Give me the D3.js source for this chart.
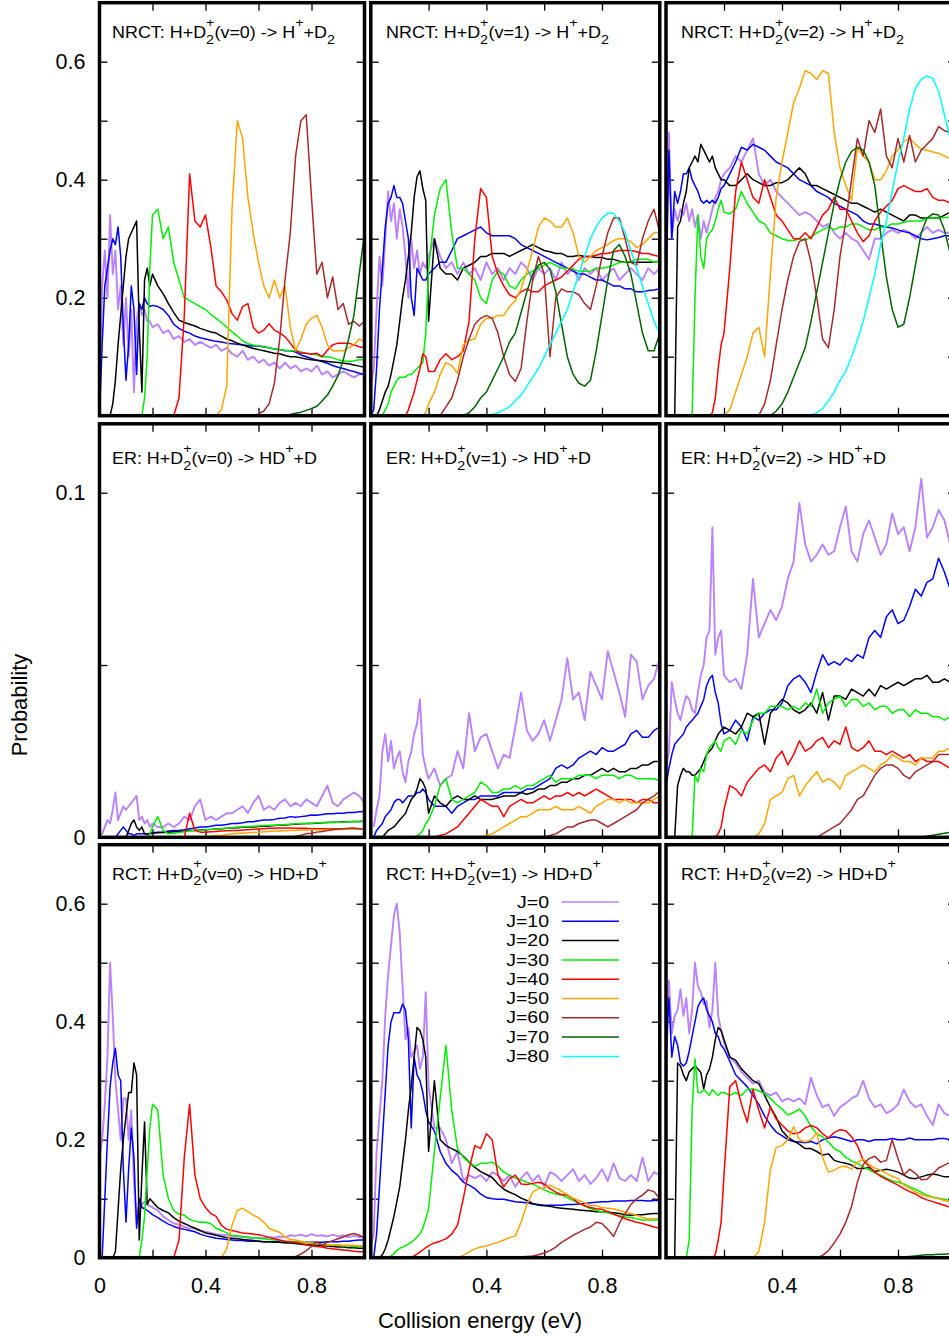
<!DOCTYPE html>
<html><head><meta charset="utf-8">
<script src="https://cdn.jsdelivr.net/npm/d3@7"></script>
<style>body{margin:0;background:#fff}svg{display:block;font-family:"Liberation Sans",Arial,sans-serif}</style>
</head><body>
<svg id="chart" width="949" height="1336"></svg>
<script>
// ---------------- data ----------------
const energy = [0,0.01,0.02,0.03,0.04,0.05,0.06,0.07,0.08,0.09,0.1,0.11,0.12,0.13,0.14,0.15,0.16,0.17,0.18,0.19,0.2,
0.22,0.24,0.26,0.28,0.3,0.32,0.34,0.36,0.38,0.4,0.42,0.44,0.46,0.48,0.5,0.52,0.54,0.56,0.58,0.6,
0.62,0.64,0.66,0.68,0.7,0.72,0.74,0.76,0.78,0.8,0.82,0.84,0.86,0.88,0.9,0.92,0.94,0.96,0.98,1.0];
// lo: values ending at E=0.20 ; hi: values ending at E=1.0
function mk(lo, hi) {
  const out = energy.map(() => null);
  lo.forEach((v, k) => { out[20 - lo.length + 1 + k] = v; });
  hi.forEach((v, k) => { out[60 - hi.length + 1 + k] = v; });
  return out;
}
const jLabels = ["J=0","J=10","J=20","J=30","J=40","J=50","J=60","J=70","J=80"];
const jColors = ["#b982ff","#0000ff","#000000","#00ee00","#ff0000","#ffa500","#a52a2a","#006400","#00ffff"];
const xTickValues = [0.2,0.4,0.6,0.8];
const yTickValuesP = [0.1,0.2,0.3,0.4,0.5,0.6];
const yTickValuesER = [0.05,0.1];
const yLabelsTop = [0.2,0.4,0.6];
const yLabelsMid = [0,0.1];
const yLabelsBot = [0,0.2,0.4,0.6];
const xLabelsCol0 = [0,0.4,0.8];
const xLabelsCol12 = [0.4,0.8];

// NRCT v=0
const nrct0_J0 = mk([0.06,0.22,0.28,0.2,0.34,0.24,0.28,0.18,0.22,0.12,0.2,0.1,0.18,0.04,0.16,0.19,0.17,0.18,0.16,0.16,0.15],
[0.155,0.14,0.145,0.13,0.135,0.125,0.13,0.12,0.125,0.12, 0.115,0.12,0.11,0.115,0.105,0.1,0.11,0.095,0.1,0.09, 0.095,0.085,0.09,0.08,0.09,0.08,0.085,0.075,0.08,0.075, 0.085,0.07,0.075,0.065,0.07,0.075,0.07,0.065,0.07,0.07]);
const nrct0_J10 = mk([0.0,0.12,0.22,0.25,0.28,0.3,0.29,0.32,0.27,0.15,0.06,0.12,0.22,0.18,0.07,0.19,0.18,0.2,0.19,0.185,0.187],
[0.185,0.18,0.17,0.155,0.148,0.143,0.14,0.135,0.132,0.13, 0.128,0.126,0.125,0.123,0.122,0.121,0.12,0.119,0.118,0.118, 0.117,0.115,0.113,0.112,0.11,0.11,0.108,0.103,0.1,0.097, 0.094,0.092,0.089,0.085,0.082,0.08,0.077,0.075,0.072,0.07]);
const nrct0_J20 = mk([0.0,0.02,0.06,0.12,0.17,0.22,0.27,0.3,0.31,0.32,0.33,0.15,0.04,0.23,0.25,0.22,0.24],
[0.22,0.207,0.19,0.175,0.162,0.158,0.155,0.152,0.148,0.145, 0.142,0.14,0.135,0.13,0.127,0.123,0.12,0.117,0.114,0.112, 0.11,0.108,0.106,0.105,0.102,0.1,0.1,0.098,0.096,0.095, 0.094,0.093,0.092,0.091,0.09,0.089,0.088,0.086,0.084,0.082]);
const nrct0_J30 = mk([0.0,0.03,0.1,0.25,0.34],
[0.35,0.3,0.32,0.26,0.23,0.2,0.195,0.19,0.185,0.18, 0.172,0.165,0.158,0.15,0.142,0.135,0.127,0.122,0.12,0.118, 0.116,0.115,0.113,0.112,0.111,0.11,0.11,0.108,0.106,0.105, 0.103,0.1,0.1,0.098,0.095,0.093,0.092,0.093,0.095,0.095]);
const nrct0_J40 = mk([], [0.0,0.03,0.17,0.41,0.33,0.32,0.34, 0.286,0.22,0.21,0.196,0.173,0.162,0.185,0.19,0.15,0.14, 0.145,0.156,0.145,0.14,0.134,0.123,0.111,0.106,0.106,0.104, 0.106,0.1,0.111,0.12,0.123,0.123,0.123,0.12,0.117,0.115]);
const nrct0_J50 = mk([], [0.0,0.01,0.05,0.35,0.5,0.47,0.37,0.31,0.26, 0.22,0.2,0.23,0.2,0.22,0.15,0.11,0.13,0.155,0.165, 0.17,0.15,0.12,0.11,0.11,0.11,0.115,0.12,0.13,0.125]);
const nrct0_J60 = mk([], [0.0,0.003, 0.008,0.02,0.055,0.13,0.23,0.31,0.44,0.5,0.51,0.37, 0.24,0.26,0.2,0.235,0.18,0.19,0.155,0.16,0.152,0.16]);
const nrct0_J70 = mk([], [0.0,0.002,0.004,0.006,0.009,0.012, 0.016,0.025,0.035,0.05,0.068,0.095,0.13,0.17,0.24,0.31]);

// NRCT v=1
const nrct1_J0 = mk([0.05,0.08,0.18,0.27,0.22,0.3,0.38,0.33,0.36,0.3,0.35,0.32,0.27,0.2,0.3,0.25,0.28,0.24,0.26,0.25,0.27],
[0.3,0.27,0.25,0.26,0.24,0.26,0.24,0.25,0.23,0.26, 0.24,0.25,0.23,0.25,0.24,0.26,0.25,0.23,0.25,0.24, 0.25,0.23,0.26,0.24,0.25,0.23,0.25,0.24,0.25,0.23, 0.24,0.25,0.23,0.24,0.25,0.24,0.23,0.25,0.24,0.25]);
const nrct1_J10 = mk([0.0,0.01,0.08,0.18,0.25,0.32,0.36,0.37,0.39,0.37,0.37,0.36,0.33,0.3,0.2,0.17,0.25,0.24,0.23,0.23,0.24],
[0.25,0.26,0.26,0.28,0.3,0.305,0.31,0.315,0.32,0.31, 0.305,0.305,0.305,0.305,0.3,0.29,0.285,0.28,0.275,0.27, 0.265,0.26,0.255,0.25,0.245,0.24,0.24,0.235,0.23,0.23, 0.225,0.22,0.22,0.215,0.215,0.21,0.21,0.212,0.213,0.215]);
const nrct1_J20 = mk([0.0,0.01,0.025,0.04,0.05,0.07,0.095,0.12,0.16,0.2,0.23,0.27,0.31,0.37,0.405,0.415,0.385,0.365,0.16],
[0.3,0.25,0.24,0.24,0.23,0.25,0.255,0.26,0.27,0.27, 0.275,0.275,0.275,0.27,0.275,0.28,0.285,0.29,0.285,0.28, 0.278,0.275,0.275,0.27,0.27,0.272,0.27,0.27,0.268,0.268, 0.265,0.265,0.262,0.26,0.26,0.26,0.26,0.26,0.26,0.262]);
const nrct1_J30 = mk([0.0,0.01,0.02,0.04,0.05,0.06,0.065,0.065,0.065,0.07,0.07,0.075,0.08,0.085,0.09,0.14,0.25],
[0.34,0.385,0.4,0.31,0.25,0.25,0.24,0.23,0.2,0.19, 0.23,0.245,0.24,0.22,0.215,0.23,0.24,0.245,0.25,0.255, 0.26,0.255,0.25,0.25,0.248,0.245,0.245,0.245,0.25,0.25, 0.252,0.255,0.26,0.26,0.262,0.265,0.265,0.265,0.26,0.263]);
const nrct1_J40 = mk([0.0,0.01,0.025,0.04,0.06,0.08,0.105,0.1,0.075],
[0.075,0.095,0.105,0.095,0.1,0.11,0.16,0.3,0.385,0.37, 0.27,0.24,0.22,0.205,0.2,0.21,0.215,0.21,0.21,0.22, 0.225,0.23,0.235,0.245,0.255,0.265,0.27,0.27,0.272,0.275, 0.275,0.278,0.28,0.28,0.28,0.278,0.275,0.275,0.272,0.27]);
const nrct1_J50 = mk([0.0,0.005,0.02],
[0.04,0.07,0.09,0.085,0.072,0.12,0.128,0.13,0.155,0.165, 0.165,0.17,0.17,0.185,0.195,0.215,0.245,0.28,0.32,0.335, 0.33,0.32,0.32,0.335,0.31,0.27,0.26,0.27,0.28,0.285, 0.29,0.297,0.3,0.3,0.295,0.285,0.29,0.3,0.31,0.31]);
const nrct1_J60 = mk([], [0.0,0.015,0.03,0.06,0.1,0.13,0.155,0.165,0.17, 0.165,0.14,0.1,0.07,0.058,0.08,0.16,0.23,0.27,0.24, 0.1,0.2,0.215,0.21,0.21,0.205,0.19,0.18,0.22,0.27, 0.31,0.335,0.335,0.3,0.26,0.255,0.3,0.33,0.35,0.31]);
const nrct1_J70 = mk([], [0.0,0.005,0.015,0.03,0.04, 0.06,0.08,0.1,0.125,0.14,0.175,0.21,0.24,0.255,0.26, 0.248,0.21,0.155,0.1,0.07,0.055,0.05,0.06,0.11,0.17, 0.23,0.28,0.29,0.27,0.24,0.19,0.14,0.11,0.11,0.14]);
const nrct1_J80 = mk([], [0.0, 0.002,0.005,0.01,0.015,0.025,0.035,0.05,0.065,0.08,0.1, 0.12,0.14,0.16,0.18,0.21,0.24,0.27,0.3,0.32,0.335, 0.343,0.343,0.33,0.31,0.28,0.25,0.22,0.19,0.16,0.14]);

// NRCT v=2
const nrct2_J0 = mk([0.25,0.48,0.3,0.35,0.33,0.35,0.34,0.36,0.33,0.35,0.32,0.34,0.3,0.33,0.31,0.33,0.35,0.37,0.38,0.4,0.41],
[0.42,0.44,0.43,0.45,0.47,0.41,0.39,0.4,0.38,0.37, 0.36,0.35,0.34,0.345,0.34,0.33,0.32,0.325,0.31,0.3, 0.31,0.3,0.295,0.28,0.265,0.3,0.3,0.31,0.315,0.31, 0.315,0.31,0.3,0.31,0.32,0.31,0.315,0.31,0.31,0.31]);
const nrct2_J10 = mk([0.2,0.45,0.3,0.38,0.36,0.38,0.41,0.41,0.42,0.4,0.39,0.38,0.365,0.36,0.365,0.36,0.365,0.36,0.37,0.385,0.39],
[0.41,0.43,0.455,0.45,0.46,0.455,0.45,0.44,0.43,0.425, 0.42,0.41,0.4,0.395,0.39,0.38,0.375,0.37,0.36,0.355, 0.35,0.345,0.34,0.33,0.325,0.325,0.322,0.32,0.318,0.315, 0.312,0.31,0.305,0.3,0.298,0.3,0.302,0.305,0.305,0.305]);
const nrct2_J20 = mk([0.0,0.32,0.33,0.36,0.38,0.42,0.43,0.44,0.43,0.46,0.45,0.44,0.43,0.44,0.42,0.41,0.4,0.4],
[0.39,0.39,0.4,0.41,0.4,0.395,0.39,0.39,0.395,0.395, 0.4,0.41,0.42,0.41,0.39,0.39,0.385,0.38,0.375,0.37, 0.365,0.36,0.36,0.355,0.35,0.345,0.35,0.345,0.34,0.335, 0.33,0.34,0.34,0.335,0.335,0.335,0.335,0.34,0.345,0.35]);
const nrct2_J30 = mk([0.0,0.2,0.34,0.27,0.25,0.3,0.31,0.315,0.33,0.35,0.365,0.345],
[0.342,0.35,0.38,0.36,0.345,0.33,0.325,0.31,0.305,0.3, 0.297,0.297,0.3,0.297,0.303,0.31,0.315,0.32,0.315,0.32, 0.32,0.325,0.325,0.32,0.315,0.315,0.32,0.32,0.325,0.325, 0.328,0.33,0.33,0.33,0.335,0.335,0.335,0.336,0.336,0.338]);
const nrct2_J40 = mk([0.0,0.005,0.03,0.08,0.12,0.14],
[0.25,0.38,0.43,0.4,0.37,0.36,0.4,0.37,0.34,0.33, 0.315,0.3,0.3,0.31,0.3,0.32,0.34,0.35,0.37,0.35, 0.35,0.33,0.31,0.295,0.305,0.33,0.345,0.355,0.365,0.385, 0.39,0.385,0.38,0.38,0.385,0.37,0.365,0.365,0.36,0.36]);
const nrct2_J50 = mk([0.0],
[0.01,0.04,0.07,0.1,0.14,0.15,0.1,0.24,0.37,0.43, 0.48,0.53,0.555,0.585,0.58,0.57,0.585,0.58,0.48,0.42, 0.39,0.365,0.455,0.44,0.43,0.4,0.4,0.415,0.44,0.45, 0.465,0.47,0.46,0.452,0.45,0.447,0.445,0.44,0.435,0.43]);
const nrct2_J60 = mk([], [0.0,0.02,0.06,0.12,0.18, 0.23,0.27,0.295,0.3,0.26,0.2,0.13,0.115,0.18,0.27, 0.33,0.4,0.47,0.44,0.5,0.48,0.52,0.44,0.42,0.47, 0.43,0.475,0.43,0.45,0.46,0.47,0.49,0.483,0.48,0.48]);
const nrct2_J70 = mk([], [0.0,0.008,0.02, 0.04,0.065,0.09,0.115,0.16,0.21,0.26,0.31,0.36,0.4, 0.43,0.448,0.455,0.45,0.43,0.39,0.31,0.235,0.18,0.15, 0.155,0.2,0.255,0.31,0.335,0.342,0.34,0.315,0.275,0.24]);
const nrct2_J80 = mk([], [0.0,0.005,0.012,0.025,0.04,0.06, 0.075,0.1,0.128,0.16,0.2,0.24,0.29,0.33,0.38,0.43, 0.47,0.52,0.555,0.57,0.576,0.572,0.55,0.51,0.47,0.42]);

// ER v=0
const er0_J0 = mk([0.001,0.001,0.003,0.005,0.004,0.008,0.013,0.005,0.007,0.009,0.008,0.009,0.01,0.011,0.012,0.005,0.006,0.004,0.005,0.003,0.004],
[0.003,0.003,0.004,0.003,0.004,0.006,0.005,0.009,0.011,0.005, 0.006,0.005,0.006,0.007,0.007,0.008,0.009,0.007,0.01,0.012, 0.008,0.009,0.008,0.01,0.011,0.009,0.01,0.009,0.011,0.01, 0.009,0.012,0.015,0.01,0.009,0.011,0.012,0.013,0.012,0.01]);
const er0_J10 = mk([0.0,0.001,0.002,0.003,0.002,0.001,0.001,0.0005,0.001,0.001,0.001,0.001,0.001,0.0012,0.0013],
[0.0015,0.0015,0.0018,0.002,0.002,0.0022,0.0025,0.0027,0.003,0.003, 0.0032,0.0035,0.0035,0.0037,0.004,0.004,0.0042,0.0045,0.0045,0.0048, 0.005,0.005,0.0052,0.0055,0.0056,0.006,0.0058,0.006,0.0062,0.0065, 0.0064,0.0066,0.0068,0.0068,0.007,0.007,0.0072,0.0072,0.0074,0.0075]);
const er0_J20 = mk([0.0,0.002,0.004,0.005,0.003,0.002,0.003,0.001,0.0008,0.001,0.0012],
[0.0013,0.0014,0.0015,0.0016,0.0017,0.0018,0.002,0.002,0.0021,0.0022, 0.0023,0.0024,0.0025,0.0026,0.0027,0.0028,0.0029,0.003,0.003,0.0031, 0.0032,0.0033,0.0034,0.0035,0.0036,0.0037,0.0038,0.0039,0.004,0.004, 0.0041,0.0042,0.0043,0.0044,0.0044,0.0045,0.0045,0.0046,0.0046,0.0047]);
const er0_J30 = mk([0.0,0.001,0.003],
[0.006,0.002,0.001,0.0012,0.0014,0.0016,0.0018,0.002,0.002,0.0022, 0.0023,0.0024,0.0025,0.0026,0.0028,0.003,0.003,0.0031,0.0032,0.0033, 0.0034,0.0035,0.0035,0.0036,0.0037,0.0038,0.0039,0.004,0.004,0.0041, 0.0042,0.0042,0.0043,0.0043,0.0044,0.0044,0.0045,0.0045,0.0045,0.0046]);
const er0_J40 = mk([], [0.0,0.007,0.002,0.0015,0.0015, 0.0016,0.0017,0.0018,0.0019,0.002,0.002,0.0021,0.0022,0.0023,0.0024, 0.0025,0.0026,0.0026,0.0027,0.0027,0.0027,0.0026,0.0026,0.0026,0.0025, 0.0025,0.0025,0.0025,0.0025,0.0025,0.0025,0.0025,0.0025,0.0025,0.0025]);
const er0_J50 = mk([], [0.0, 0.0003,0.0005,0.0006,0.0008,0.001,0.0011,0.0012,0.0013,0.0014,0.0015, 0.0016,0.0017,0.0018,0.0018,0.0019,0.002,0.002,0.0021,0.0021,0.0022, 0.0022,0.0022,0.0023,0.0023,0.0023,0.0023,0.0024,0.0024,0.0024,0.0024]);
const er0_J60 = mk([], [0.0,0.0003,0.0006,0.001,0.0012, 0.0015,0.0017,0.002,0.0022,0.0024,0.0025,0.0026,0.0027,0.0025,0.0023]);

// ER v=1
const er1_J0 = mk([0.003,0.008,0.012,0.025,0.03,0.022,0.028,0.02,0.023,0.025,0.019,0.016,0.022,0.025,0.03,0.033,0.04,0.024,0.02,0.017],
[0.02,0.015,0.017,0.018,0.025,0.02,0.036,0.025,0.029,0.03, 0.025,0.02,0.024,0.023,0.032,0.042,0.031,0.028,0.03,0.034, 0.028,0.034,0.04,0.052,0.04,0.042,0.034,0.048,0.044,0.04, 0.054,0.048,0.042,0.035,0.053,0.051,0.04,0.044,0.046,0.052]);
const er1_J10 = mk([0.0,0.002,0.003,0.004,0.006,0.007,0.008,0.01,0.011,0.011,0.01,0.011,0.012,0.012,0.012,0.013,0.013,0.014,0.013,0.011],
[0.009,0.009,0.009,0.007,0.009,0.01,0.011,0.011,0.012,0.012, 0.012,0.012,0.013,0.013,0.013,0.013,0.014,0.014,0.015,0.016, 0.017,0.02,0.021,0.02,0.021,0.023,0.024,0.025,0.024,0.026, 0.025,0.025,0.026,0.027,0.03,0.031,0.029,0.029,0.031,0.032]);
const er1_J20 = mk([0.0,0.001,0.002,0.0025,0.003,0.004,0.005,0.006,0.007,0.009,0.011,0.012,0.014,0.017,0.016,0.014,0.007],
[0.012,0.01,0.009,0.011,0.012,0.011,0.011,0.012,0.011,0.011, 0.011,0.0115,0.012,0.012,0.012,0.013,0.0125,0.013,0.014,0.014, 0.015,0.015,0.016,0.016,0.017,0.017,0.018,0.018,0.019,0.02, 0.019,0.02,0.019,0.019,0.02,0.02,0.021,0.021,0.022,0.022]);
const er1_J30 = mk([0.0,0.0005,0.001,0.002,0.004,0.005],
[0.009,0.015,0.017,0.011,0.01,0.011,0.012,0.013,0.016,0.015, 0.013,0.013,0.014,0.014,0.015,0.014,0.015,0.015,0.016,0.017, 0.018,0.016,0.017,0.017,0.017,0.018,0.018,0.018,0.017,0.018, 0.018,0.018,0.017,0.018,0.018,0.017,0.017,0.017,0.017,0.0165]);
const er1_J40 = mk([], [0.0,0.0005,0.001,0.002,0.003,0.005,0.007,0.009,0.011,0.01, 0.009,0.009,0.006,0.009,0.01,0.011,0.01,0.01,0.011,0.012, 0.011,0.012,0.012,0.013,0.012,0.013,0.012,0.013,0.014,0.013, 0.012,0.011,0.011,0.011,0.011,0.01,0.011,0.011,0.01,0.01]);
const er1_J50 = mk([], [0.0,0.0005, 0.001,0.002,0.003,0.004,0.005,0.006,0.006,0.007,0.008,0.008, 0.008,0.009,0.008,0.008,0.008,0.009,0.008,0.007,0.009,0.01, 0.011,0.011,0.01,0.011,0.01,0.01,0.01,0.01,0.011,0.012]);
const er1_J60 = mk([], [0.0, 0.0005,0.001,0.002,0.003,0.003,0.004,0.0045,0.005,0.005,0.004, 0.003,0.004,0.005,0.006,0.007,0.008,0.01,0.011,0.012,0.0135]);

// ER v=2
const er2_J0 = mk([0.02,0.025,0.045,0.04,0.036,0.034,0.038,0.041,0.04,0.037,0.036,0.042,0.047,0.05,0.058,0.06,0.09,0.053,0.058,0.06,0.047],
[0.045,0.046,0.043,0.053,0.075,0.058,0.062,0.066,0.063,0.067, 0.075,0.08,0.097,0.085,0.08,0.082,0.085,0.082,0.083,0.09, 0.096,0.083,0.08,0.088,0.092,0.087,0.082,0.085,0.094,0.088, 0.09,0.083,0.09,0.104,0.087,0.09,0.095,0.092,0.085,0.088]);
const er2_J10 = mk([0.015,0.02,0.024,0.027,0.028,0.029,0.03,0.032,0.033,0.034,0.035,0.036,0.038,0.04,0.044,0.046,0.047,0.042,0.039,0.033,0.03],
[0.031,0.034,0.032,0.028,0.035,0.034,0.036,0.037,0.037,0.039, 0.044,0.046,0.047,0.045,0.042,0.048,0.053,0.05,0.051,0.05, 0.052,0.051,0.053,0.052,0.058,0.06,0.058,0.064,0.066,0.062, 0.063,0.067,0.072,0.07,0.074,0.075,0.081,0.077,0.072,0.07]);
const er2_J20 = mk([0.0,0.015,0.018,0.02,0.019,0.019,0.018,0.018,0.019,0.02,0.022,0.024,0.025,0.026,0.028,0.03,0.031,0.032],
[0.031,0.03,0.032,0.036,0.035,0.036,0.027,0.036,0.038,0.04, 0.039,0.037,0.036,0.037,0.039,0.036,0.042,0.034,0.041,0.041, 0.04,0.043,0.042,0.041,0.043,0.041,0.044,0.043,0.044,0.045, 0.044,0.045,0.046,0.046,0.047,0.045,0.045,0.046,0.045,0.045]);
const er2_J30 = mk([0.0,0.018,0.016,0.02,0.019,0.024,0.026,0.027,0.028,0.026,0.025,0.028],
[0.029,0.027,0.031,0.03,0.034,0.036,0.036,0.038,0.038,0.038, 0.037,0.038,0.037,0.039,0.038,0.043,0.036,0.039,0.04,0.041, 0.038,0.04,0.04,0.038,0.039,0.037,0.038,0.038,0.036,0.037, 0.037,0.035,0.037,0.036,0.036,0.035,0.035,0.034,0.035,0.034]);
const er2_J40 = mk([0.0,0.001,0.003,0.008],
[0.015,0.014,0.012,0.016,0.018,0.02,0.021,0.019,0.023,0.025, 0.021,0.024,0.028,0.025,0.026,0.028,0.029,0.026,0.028,0.027, 0.032,0.026,0.025,0.026,0.028,0.025,0.025,0.024,0.025,0.024, 0.023,0.024,0.022,0.023,0.022,0.022,0.022,0.021,0.02,0.02]);
const er2_J50 = mk([], [0.0,0.001,0.004,0.011,0.012,0.013, 0.017,0.018,0.012,0.015,0.017,0.019,0.016,0.017,0.016,0.014, 0.018,0.019,0.02,0.021,0.02,0.019,0.021,0.022,0.024,0.023, 0.022,0.022,0.021,0.023,0.023,0.023,0.025,0.025,0.026,0.026]);
const er2_J60 = mk([], [0.0,0.001,0.002,0.003,0.004, 0.006,0.008,0.011,0.012,0.015,0.018,0.02,0.021,0.021,0.02, 0.018,0.017,0.019,0.02,0.021,0.022,0.024,0.024,0.024,0.024]);
const er2_J70 = mk([], [0.0,0.0003,0.0006,0.0009,0.0012,0.0014,0.0015]);

// RCT v=0
const rct0_J0 = mk([0.17,0.2,0.26,0.34,0.5,0.41,0.3,0.25,0.2,0.27,0.27,0.2,0.25,0.13,0.06,0.1,0.09,0.095,0.09,0.088,0.085],
[0.08,0.07,0.064,0.058,0.056,0.052,0.05,0.05,0.046,0.044, 0.042,0.04,0.039,0.038,0.037,0.036,0.035,0.034,0.033,0.034, 0.033,0.035,0.034,0.036,0.035,0.038,0.037,0.039,0.036,0.04, 0.037,0.038,0.036,0.039,0.036,0.038,0.035,0.037,0.035,0.036]);
const rct0_J10 = mk([0.0,0.1,0.2,0.29,0.33,0.355,0.31,0.3,0.15,0.06,0.15,0.22,0.17,0.05,0.1,0.085,0.083,0.08,0.077,0.073],
[0.068,0.062,0.057,0.053,0.05,0.048,0.046,0.044,0.04,0.037, 0.035,0.033,0.032,0.031,0.03,0.029,0.029,0.028,0.028,0.028, 0.027,0.027,0.027,0.027,0.026,0.026,0.026,0.026,0.026,0.026, 0.026,0.026,0.027,0.027,0.027,0.028,0.028,0.029,0.03,0.03]);
const rct0_J20 = mk([0.0,0.01,0.08,0.15,0.2,0.24,0.28,0.28,0.33,0.31,0.03,0.14,0.23,0.09,0.1,0.095],
[0.085,0.08,0.076,0.068,0.062,0.058,0.054,0.05,0.046,0.042, 0.04,0.038,0.036,0.034,0.033,0.032,0.031,0.03,0.029,0.028, 0.027,0.027,0.026,0.026,0.025,0.025,0.024,0.023,0.022,0.022, 0.021,0.02,0.02,0.019,0.018,0.018,0.017,0.017,0.016,0.016]);
const rct0_J30 = mk([0.0,0.03,0.07,0.15,0.22,0.26],
[0.25,0.14,0.1,0.08,0.074,0.072,0.065,0.062,0.06,0.06, 0.058,0.05,0.046,0.042,0.038,0.037,0.036,0.035,0.034,0.033, 0.032,0.031,0.03,0.029,0.028,0.027,0.027,0.026,0.025,0.024, 0.023,0.023,0.022,0.021,0.021,0.02,0.02,0.019,0.019,0.019]);
const rct0_J40 = mk([], [0.0,0.03,0.17,0.26,0.14,0.1,0.085, 0.075,0.07,0.055,0.048,0.046,0.044,0.042,0.041,0.04,0.039, 0.037,0.034,0.032,0.03,0.028,0.027,0.026,0.024,0.022,0.02, 0.019,0.018,0.016,0.015,0.014,0.013,0.012,0.011,0.01,0.01]);
const rct0_J50 = mk([], [0.0,0.015,0.055,0.08,0.084,0.078,0.072,0.068, 0.06,0.05,0.046,0.043,0.035,0.031,0.03,0.028,0.026,0.025, 0.024,0.023,0.022,0.021,0.022,0.021,0.021,0.021,0.02,0.021]);
const rct0_J60 = mk([], [0.0,0.002,0.006,0.012,0.019, 0.027,0.021,0.026,0.029,0.032,0.035,0.039,0.041,0.038,0.033]);

// RCT v=1
const rct1_J0 = mk([0.02,0.04,0.18,0.24,0.3,0.41,0.48,0.53,0.58,0.6,0.55,0.46,0.37,0.39,0.34,0.35,0.36,0.32,0.34,0.45,0.29],
[0.22,0.22,0.2,0.16,0.18,0.13,0.14,0.135,0.14,0.13, 0.145,0.14,0.13,0.14,0.12,0.135,0.145,0.13,0.14,0.12, 0.145,0.14,0.13,0.14,0.15,0.13,0.14,0.125,0.135,0.15, 0.13,0.16,0.135,0.13,0.14,0.13,0.17,0.13,0.145,0.14]);
const rct1_J10 = mk([0.0,0.04,0.12,0.2,0.28,0.36,0.4,0.415,0.415,0.415,0.43,0.42,0.37,0.22,0.34,0.31,0.3,0.28,0.25,0.23],
[0.215,0.18,0.16,0.148,0.14,0.128,0.123,0.117,0.108,0.102, 0.1,0.099,0.099,0.097,0.095,0.094,0.093,0.091,0.09,0.089, 0.089,0.089,0.089,0.09,0.09,0.091,0.092,0.093,0.094,0.095, 0.095,0.096,0.096,0.096,0.097,0.097,0.097,0.096,0.097,0.097]);
const rct1_J20 = mk([0.0,0.005,0.015,0.03,0.05,0.07,0.095,0.12,0.16,0.2,0.25,0.29,0.34,0.39,0.385,0.37,0.34,0.18],
[0.3,0.2,0.19,0.185,0.18,0.172,0.162,0.153,0.146,0.141, 0.136,0.125,0.116,0.111,0.107,0.101,0.097,0.092,0.089,0.088, 0.087,0.085,0.084,0.083,0.082,0.081,0.08,0.079,0.078,0.078, 0.077,0.076,0.075,0.073,0.072,0.073,0.073,0.074,0.075,0.075]);
const rct1_J30 = mk([0.0,0.003,0.007,0.012,0.016,0.018,0.02,0.023,0.026,0.03,0.035,0.04,0.05,0.065,0.083],
[0.18,0.27,0.36,0.25,0.185,0.17,0.162,0.155,0.16,0.16, 0.162,0.155,0.145,0.14,0.135,0.132,0.128,0.125,0.12,0.115, 0.111,0.108,0.106,0.102,0.097,0.093,0.088,0.083,0.08,0.078, 0.076,0.073,0.071,0.069,0.068,0.066,0.064,0.064,0.064,0.064]);
const rct1_J40 = mk([0.0,0.003,0.006,0.01,0.013,0.017,0.02],
[0.025,0.028,0.032,0.04,0.055,0.1,0.15,0.19,0.185,0.21, 0.2,0.14,0.12,0.134,0.14,0.125,0.124,0.126,0.128,0.125, 0.117,0.111,0.107,0.106,0.1,0.092,0.088,0.085,0.083,0.082, 0.078,0.074,0.07,0.066,0.063,0.06,0.058,0.055,0.052,0.05]);
const rct1_J50 = mk([], [0.0,0.004,0.01,0.015,0.018,0.02, 0.023,0.026,0.03,0.034,0.037,0.06,0.09,0.111,0.117,0.118, 0.123,0.118,0.113,0.107,0.101,0.097,0.093,0.089,0.088,0.085, 0.084,0.083,0.08,0.077,0.075,0.072,0.068,0.066,0.066,0.066]);
const rct1_J60 = mk([], [0.0,0.001,0.002,0.003,0.005,0.008, 0.012,0.018,0.026,0.032,0.038,0.043,0.048,0.052,0.06,0.058, 0.048,0.036,0.058,0.075,0.09,0.1,0.106,0.115,0.112,0.1]);

// RCT v=2
const rct2_J0 = mk([0.3,0.47,0.38,0.41,0.42,0.455,0.41,0.44,0.38,0.42,0.5,0.46,0.45,0.43,0.435,0.39,0.42,0.5,0.41,0.385,0.365],
[0.34,0.33,0.315,0.305,0.295,0.3,0.28,0.275,0.28,0.265, 0.27,0.265,0.27,0.26,0.305,0.275,0.255,0.26,0.24,0.255, 0.262,0.27,0.275,0.3,0.27,0.255,0.26,0.245,0.25,0.26, 0.285,0.265,0.255,0.26,0.24,0.225,0.26,0.245,0.24,0.24]);
const rct2_J10 = mk([0.35,0.44,0.34,0.375,0.36,0.33,0.325,0.33,0.35,0.375,0.4,0.425,0.435,0.44,0.42,0.41,0.4,0.38,0.375,0.36,0.354],
[0.333,0.31,0.3,0.29,0.275,0.26,0.24,0.225,0.213,0.207, 0.2,0.197,0.196,0.195,0.197,0.193,0.2,0.203,0.205,0.203, 0.2,0.197,0.2,0.2,0.197,0.2,0.2,0.2,0.202,0.2, 0.2,0.203,0.2,0.2,0.2,0.2,0.202,0.202,0.2,0.2]);
const rct2_J20 = mk([0.0,0.33,0.325,0.31,0.3,0.315,0.32,0.325,0.32,0.314,0.286,0.31,0.32,0.34,0.37,0.39,0.385,0.37],
[0.34,0.335,0.32,0.31,0.3,0.295,0.275,0.255,0.238,0.215, 0.204,0.198,0.192,0.185,0.185,0.18,0.174,0.176,0.165,0.162, 0.16,0.157,0.151,0.151,0.153,0.146,0.148,0.15,0.148,0.145, 0.14,0.135,0.134,0.137,0.14,0.142,0.14,0.137,0.137,0.137]);
const rct2_J30 = mk([0.0,0.03,0.25,0.337,0.28,0.28,0.285,0.28,0.275,0.285,0.28,0.275,0.28,0.28],
[0.275,0.28,0.275,0.285,0.286,0.283,0.278,0.27,0.26,0.252, 0.242,0.246,0.252,0.24,0.222,0.21,0.205,0.196,0.185,0.18, 0.17,0.164,0.16,0.154,0.149,0.144,0.14,0.135,0.13,0.128, 0.125,0.12,0.116,0.111,0.106,0.103,0.101,0.099,0.097,0.096]);
const rct2_J40 = mk([0.0,0.005,0.03,0.06,0.14],
[0.29,0.3,0.26,0.23,0.285,0.25,0.22,0.255,0.235,0.225, 0.215,0.21,0.212,0.22,0.224,0.22,0.21,0.203,0.212,0.217, 0.215,0.205,0.19,0.165,0.155,0.145,0.138,0.133,0.128,0.123, 0.117,0.112,0.108,0.102,0.098,0.095,0.092,0.089,0.085,0.082]);
const rct2_J50 = mk([], [0.0,0.01,0.06,0.15,0.187,0.19, 0.2,0.222,0.2,0.196,0.2,0.212,0.17,0.145,0.148,0.154, 0.155,0.15,0.162,0.167,0.158,0.152,0.148,0.143,0.138,0.134, 0.123,0.118,0.112,0.107,0.104,0.102,0.1,0.097,0.095,0.094]);
const rct2_J60 = mk([], [0.0,0.004,0.012,0.025,0.04, 0.06,0.087,0.128,0.158,0.168,0.172,0.162,0.165,0.2,0.168, 0.14,0.15,0.143,0.132,0.133,0.142,0.152,0.157,0.162,0.165]);
const rct2_J70 = mk([], [0.0,0.001,0.002,0.003,0.004,0.005,0.005,0.006,0.006,0.007,0.007]);

// ---------------- layout ----------------
const cols = [{x0:99.5,x1:364.5},{x0:370.8,x1:659.8},{x0:666,x1:956}];
const rows = [{y0:2.7,y1:415.7,max:0.7},{y0:423.8,y1:837.3,max:0.12},{y0:844.7,y1:1257.7,max:0.7}];
const titleX = [112, 386, 681];
const titleY = [38.3, 464.3, 879.7];

function tNRCT(v){return [{t:"NRCT: H+D"},{sub:"2",sup:"+"},{t:"(v="+v+") -> H"},{sup:"+"},{t:"+D"},{sub:"2"}];}
function tER(v){return [{t:"ER: H+D"},{sub:"2",sup:"+"},{t:"(v="+v+") -> HD"},{sup:"+"},{t:"+D"}];}
function tRCT(v){return [{t:"RCT: H+D"},{sub:"2",sup:"+"},{t:"(v="+v+") -> HD+D"},{sup:"+"}];}

const panels = [
 {r:0,c:0,title:tNRCT(0),s:[nrct0_J0,nrct0_J10,nrct0_J20,nrct0_J30,nrct0_J40,nrct0_J50,nrct0_J60,nrct0_J70,null]},
 {r:0,c:1,title:tNRCT(1),s:[nrct1_J0,nrct1_J10,nrct1_J20,nrct1_J30,nrct1_J40,nrct1_J50,nrct1_J60,nrct1_J70,nrct1_J80]},
 {r:0,c:2,title:tNRCT(2),s:[nrct2_J0,nrct2_J10,nrct2_J20,nrct2_J30,nrct2_J40,nrct2_J50,nrct2_J60,nrct2_J70,nrct2_J80]},
 {r:1,c:0,title:tER(0),s:[er0_J0,er0_J10,er0_J20,er0_J30,er0_J40,er0_J50,er0_J60,null,null]},
 {r:1,c:1,title:tER(1),s:[er1_J0,er1_J10,er1_J20,er1_J30,er1_J40,er1_J50,er1_J60,null,null]},
 {r:1,c:2,title:tER(2),s:[er2_J0,er2_J10,er2_J20,er2_J30,er2_J40,er2_J50,er2_J60,er2_J70,null]},
 {r:2,c:0,title:tRCT(0),s:[rct0_J0,rct0_J10,rct0_J20,rct0_J30,rct0_J40,rct0_J50,rct0_J60,null,null]},
 {r:2,c:1,title:tRCT(1),s:[rct1_J0,rct1_J10,rct1_J20,rct1_J30,rct1_J40,rct1_J50,rct1_J60,null,null]},
 {r:2,c:2,title:tRCT(2),s:[rct2_J0,rct2_J10,rct2_J20,rct2_J30,rct2_J40,rct2_J50,rct2_J60,rct2_J70,null]}
];

const svg = d3.select("#chart");
svg.append("rect").attr("width",949).attr("height",1336).attr("fill","#fff");
const defs = svg.append("defs");
const FONT = "Liberation Sans";

const TICK = 8;
panels.forEach((p, pi) => {
  const C = cols[p.c], R = rows[p.r];
  const x = d3.scaleLinear().domain([0,1]).range([C.x0, C.x1]);
  const y = d3.scaleLinear().domain([0,R.max]).range([R.y1, R.y0]);
  const g = svg.append("g");
  defs.append("clipPath").attr("id","clip"+pi).append("rect")
    .attr("x",C.x0).attr("y",R.y0).attr("width",C.x1-C.x0).attr("height",R.y1-R.y0);
  const yt = p.r === 1 ? yTickValuesER : yTickValuesP;
  const styleAxis = sel => { sel.select(".domain").remove(); sel.selectAll("line").attr("stroke","#000").attr("stroke-width",1.3); sel.selectAll("text").remove(); };
  g.append("g").attr("transform",`translate(0,${R.y1})`).call(d3.axisBottom(x).tickValues(xTickValues).tickSize(-TICK)).call(styleAxis);
  g.append("g").attr("transform",`translate(0,${R.y0})`).call(d3.axisTop(x).tickValues(xTickValues).tickSize(-TICK)).call(styleAxis);
  g.append("g").attr("transform",`translate(${C.x0},0)`).call(d3.axisLeft(y).tickValues(yt).tickSize(-TICK)).call(styleAxis);
  g.append("g").attr("transform",`translate(${C.x1},0)`).call(d3.axisRight(y).tickValues(yt).tickSize(-TICK)).call(styleAxis);
  const lg = g.append("g").attr("clip-path",`url(#clip${pi})`);
  const line = d3.line().defined(d => d[1] != null).x(d => x(d[0])).y(d => y(d[1]));
  p.s.forEach((arr, j) => {
    if (!arr) return;
    lg.append("path").datum(energy.map((e,i) => [e, arr[i]]))
      .attr("d", line).attr("fill","none").attr("stroke", jColors[j])
      .attr("stroke-width", j === 0 ? 1.9 : 1.5).attr("stroke-linejoin","round");
  });
  g.append("rect").attr("x",C.x0).attr("y",R.y0).attr("width",C.x1-C.x0).attr("height",R.y1-R.y0)
    .attr("fill","none").attr("stroke","#000").attr("stroke-width",3.5);
  if (p.c === 0) {
    const labs = p.r === 0 ? yLabelsTop : (p.r === 1 ? yLabelsMid : yLabelsBot);
    const ax = d3.axisLeft(y).tickValues(labs).tickSize(0).tickPadding(14).tickFormat(d => String(d));
    g.append("g").attr("transform",`translate(${C.x0},0)`).call(ax)
      .call(s => { s.select(".domain").remove(); s.selectAll("text").attr("font-size",21.5).attr("font-family",FONT).attr("fill","#000"); });
  }
  if (p.r === 2) {
    const labs = p.c === 0 ? xLabelsCol0 : xLabelsCol12;
    const ax = d3.axisBottom(x).tickValues(labs).tickSize(0).tickPadding(20).tickFormat(d => String(d));
    g.append("g").attr("transform",`translate(0,${R.y1})`).call(ax)
      .call(s => { s.select(".domain").remove(); s.selectAll("text").attr("font-size",21.5).attr("font-family",FONT).attr("fill","#000"); });
  }
  // title (slightly widened, as in the original)
  const tg = g.append("g").attr("transform",`translate(${titleX[p.c]},${titleY[p.r]}) scale(1.1,1)`);
  let tx = 0;
  const FS = 16.3, SS = 13;
  p.title.forEach(part => {
    if (part.t !== undefined) {
      const t = tg.append("text").attr("x",tx).attr("y",0).attr("font-size",FS).attr("fill","#000").style("white-space","pre").text(part.t);
      tx += t.node().getComputedTextLength();
    } else {
      let w = 0;
      if (part.sup) { const t = tg.append("text").attr("x",tx).attr("y",-11.5).attr("font-size",SS).attr("fill","#000").text(part.sup); w = Math.max(w, t.node().getComputedTextLength()); }
      if (part.sub) { const t = tg.append("text").attr("x",tx).attr("y",5.5).attr("font-size",SS).attr("fill","#000").text(part.sub); w = Math.max(w, t.node().getComputedTextLength()); }
      tx += w;
    }
  });
});

// legend (in RCT v=1 panel)
const legX1 = 549, legL0 = 562, legL1 = 619, legY0 = 902, legDY = 19.3;
const leg = svg.append("g");
jLabels.forEach((lab, j) => {
  const yy = legY0 + j*legDY;
  leg.append("text").attr("transform",`translate(${legX1},${yy+5.6}) scale(1.25,1)`).attr("text-anchor","end").attr("font-size",15.6).attr("fill","#000").text(lab);
  leg.append("line").attr("x1",legL0).attr("x2",legL1).attr("y1",yy).attr("y2",yy).attr("stroke",jColors[j]).attr("stroke-width",1.5);
});

// axis titles
svg.append("text").attr("transform","translate(27,705) rotate(-90)").attr("text-anchor","middle").attr("font-size",22).attr("fill","#000").text("Probability");
svg.append("text").attr("x",480).attr("y",1328).attr("text-anchor","middle").attr("font-size",22).attr("fill","#000").text("Collision energy (eV)");
</script>
</body></html>
